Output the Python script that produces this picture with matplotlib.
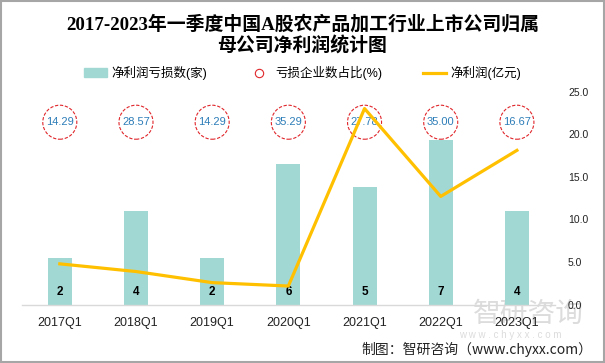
import numpy as np
import matplotlib.pyplot as plt
from matplotlib.lines import Line2D
from matplotlib.patches import Patch, Rectangle

plt.rcParams['font.family'] = ['Liberation Sans', 'Noto Sans CJK SC']

# datos
trimestres = ['2017Q1', '2018Q1', '2019Q1', '2020Q1', '2021Q1', '2022Q1', '2023Q1']
empresas_perdida = [2, 4, 2, 6, 5, 7, 4]            # 净利润亏损数(家)
porcentaje_perdida = [14.29, 28.57, 14.29, 35.29, 27.78, 35.00, 16.67]  # 亏损企业数占比(%)
beneficio_neto = [4.8, 3.9, 2.6, 2.2, 23.0, 12.7, 18.1]  # 净利润(亿元)

color_barra = '#A2D8D4'
color_linea = '#FFC000'
color_circulo = '#E0262B'
nivel_circulo = 21.4  # altura fija de la fila de circulos (eje derecho)

fig = plt.figure(figsize=(6.05, 3.63), dpi=100)
ax = fig.add_axes([21.7 / 605, 58.2 / 363, 533.3 / 605, 213.3 / 363])
ax.patch.set_visible(False)
ax2 = ax.twinx()
x = np.arange(len(trimestres))

# barras (eje izquierdo oculto)
ax.bar(x, empresas_perdida, width=0.315, color=color_barra, zorder=2)
ax.set_ylim(0, 9.07)
ax.set_xlim(-0.5, len(trimestres) - 0.5)
for i, v in enumerate(empresas_perdida):
    ax.text(i, 0.53, str(v), ha='center', va='center', fontsize=8.5,
            fontweight='bold', color='black', zorder=5)
ax.set_xticks(x)
ax.set_xticklabels(trimestres, fontsize=9, color='#222222')
ax.tick_params(axis='x', length=0, pad=9)
ax.set_yticks([])
for s in ['top', 'left', 'right']:
    ax.spines[s].set_visible(False)
ax.spines['bottom'].set_color('#D9D9D9')
ax.spines['bottom'].set_linewidth(1)

# linea y circulos (eje derecho)
ax2.plot(x, beneficio_neto, color=color_linea, lw=2.3, zorder=4)
ax2.scatter(x, [nivel_circulo] * len(x), s=600, facecolors='none',
            edgecolors=color_circulo, linewidths=0.8, linestyles=(0, (3, 1.5)), zorder=2)
for i, p in enumerate(porcentaje_perdida):
    ax2.text(i, nivel_circulo, f'{p:.2f}', ha='center', va='center',
             fontsize=8, color='#2D7DB8', zorder=3)
ax2.set_ylim(0, 25)
ax2.set_yticks(np.arange(0, 26, 5))
ax2.set_yticklabels([f'{t:.1f}' for t in np.arange(0, 26, 5)], fontsize=7.5, color='#222222')
ax2.tick_params(axis='y', length=0, pad=9.4)
for s in ['top', 'left', 'right', 'bottom']:
    ax2.spines[s].set_visible(False)

# titulo
fig.text(0.5, 1 - 35 / 363,
         '2017-2023年一季度中国A股农产品加工行业上市公司归属\n母公司净利润统计图',
         ha='center', va='center', fontsize=13.6, fontweight='bold',
         family=['Liberation Serif', 'Noto Sans CJK SC'], linespacing=1.2)

# leyenda
handles = [
    Patch(color=color_barra),
    Line2D([], [], marker='o', linestyle='none', markersize=6,
           markerfacecolor='none', markeredgecolor=color_circulo, markeredgewidth=0.8),
    Line2D([], [], color=color_linea, lw=2.3),
]
labels = ['净利润亏损数(家)', '亏损企业数占比(%)', '净利润(亿元)']
fig.legend(handles, labels, loc='center', bbox_to_anchor=(0.5, 1 - 73 / 363),
           ncol=3, frameon=False, fontsize=9, handlelength=1.85, handletextpad=0.4,
           columnspacing=3.2)

# marca de agua y fuente
fig.text(528 / 605, 1 - 314 / 363, '智研咨询', ha='center', va='center',
         fontsize=20, color='#DCDCDC', zorder=-1, family='Noto Sans CJK SC')
fig.text(510 / 605, 1 - 335 / 363, 'w w w . c h y x x . c o m', ha='center', va='center',
         fontsize=7, color='#DCDCDC', zorder=-1)
fig.text(592 / 605, 1 - 349 / 363, '制图：智研咨询（www.chyxx.com）', ha='right', va='center',
         fontsize=10, color='#222222', family='Noto Sans CJK SC')

fig.patches.append(Rectangle((0.001, 0.002), 0.997, 0.996, transform=fig.transFigure,
                             fill=False, edgecolor='#A6A6A6', lw=1.5))

fig.savefig('out.png', dpi=100)
